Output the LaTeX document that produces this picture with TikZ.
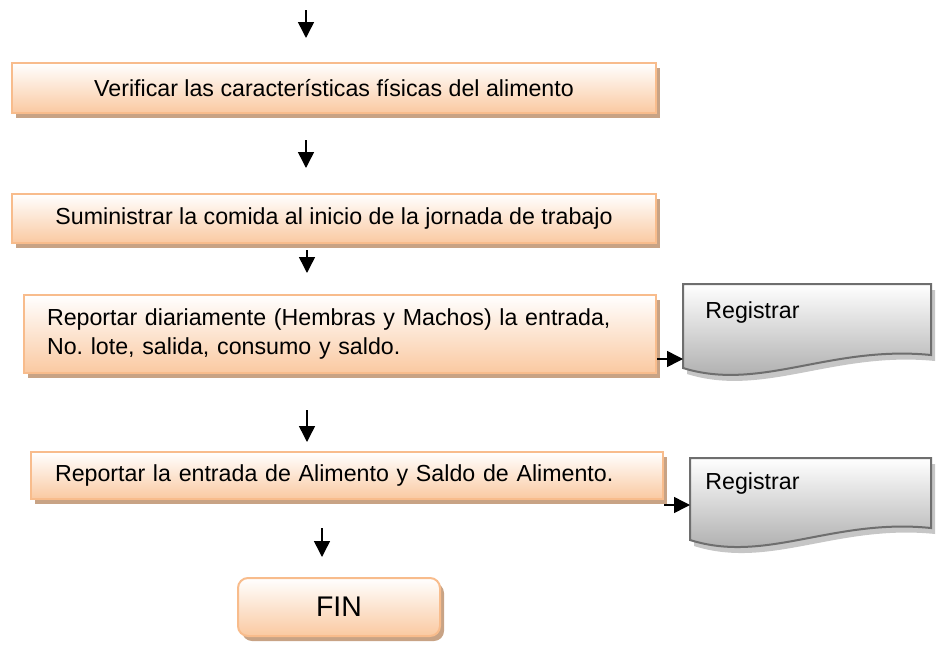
\documentclass[tikz,border=0pt]{standalone}
\usepackage{fontspec}
\setmainfont{Liberation Sans}
\usetikzlibrary{positioning,shadows,arrows.meta}
\frenchspacing

\definecolor{pasoborde}{HTML}{F8BC8C}
\definecolor{pasofondo}{HTML}{FAC9A1}
\definecolor{pasosombra}{HTML}{C8A385}
\definecolor{docborde}{HTML}{6E6E6E}
\definecolor{docfondo}{HTML}{A2A2A2}
\definecolor{docsombra}{HTML}{C6C6C6}

\begin{document}
\begin{tikzpicture}[x=0.5pt, y=-0.5pt,
    pasonode/.style={rectangle, draw=pasoborde, line width=1pt, top color=white, bottom color=pasofondo, inner sep=0pt,
        drop shadow={shadow xshift=2pt, shadow yshift=-2.5pt, fill=pasosombra, opacity=1}, font=\fontsize{11.6}{14.5}\selectfont},
    finnode/.style={pasonode, rounded corners=5pt, font=\fontsize{14.2}{16}\selectfont},
    docforma/.style={draw=docborde, line width=1pt, top color=white, bottom color=docfondo,
        drop shadow={shadow xshift=2pt, shadow yshift=-3pt, fill=docsombra, opacity=1}},
    doctexto/.style={inner sep=0pt, font=\fontsize{11.6}{14}\selectfont},
    flecha/.style={-{Triangle[length=8pt, width=8pt]}, line width=0.75pt},
    ]
    \useasboundingbox (0,0) rectangle (943,648);

    %Documents
    \path[docforma] (683,284) -- (931,284) -- (931,355) .. controls (830,345) and (760,392) .. (683,368) -- cycle;
    \path[docforma] (690,458) -- (931,458) -- (931,528) .. controls (833,518) and (766,564) .. (690,540) -- cycle;

    %Nodes
    \node[pasonode, minimum width=322pt, minimum height=25pt]   (verif)  at (334,88)    {Verificar las características físicas del alimento};
    \node[pasonode, minimum width=322pt, minimum height=24.5pt] (sumin)  at (334,218.5) {Suministrar la comida al inicio de la jornada de trabajo};
    \node[pasonode, minimum width=316pt, minimum height=39pt, text width=293pt, align=left] (repdia) at (340,334)
        {Reportar diariamente (Hembras y Machos) la entrada,\\No. lote, salida, consumo y saldo.};
    \node[pasonode, minimum width=316pt, minimum height=23.5pt, text width=292pt, align=left] (repent) at (347,475.5)
        {Reportar la entrada de Alimento y Saldo de Alimento.};
    \node[finnode, minimum width=101pt, minimum height=29pt]    (fin)    at (339,607)   {FIN};
    \node[doctexto, anchor=west] (reg1) at (705,312) {Registrar};
    \node[doctexto, anchor=west] (reg2) at (705,483) {Registrar};

    %Arrow ends
    \coordinate (a0top) at (306,10);  \coordinate (a0bot) at (306,38);
    \coordinate (a1top) at (306,140); \coordinate (a1bot) at (306,168);
    \coordinate (a2top) at (307,250); \coordinate (a2bot) at (307,273);
    \coordinate (a3top) at (307,410); \coordinate (a3bot) at (307,442);
    \coordinate (a4top) at (322,528); \coordinate (a4bot) at (322,557);
    \coordinate (reg1in) at (683,359);
    \coordinate (reg2in) at (690,505);

    %Lines
    \draw[flecha] (a0top) -- (a0bot);
    \draw[flecha] (a1top) -- (a1bot);
    \draw[flecha] (a2top) -- (a2bot);
    \draw[flecha] (a3top) -- (a3bot);
    \draw[flecha] (a4top) -- (a4bot);
    \draw[flecha] (repdia.east |- reg1in) -- (reg1in);
    \draw[flecha] (repent.east |- reg2in) -- (reg2in);
\end{tikzpicture}
\end{document}
